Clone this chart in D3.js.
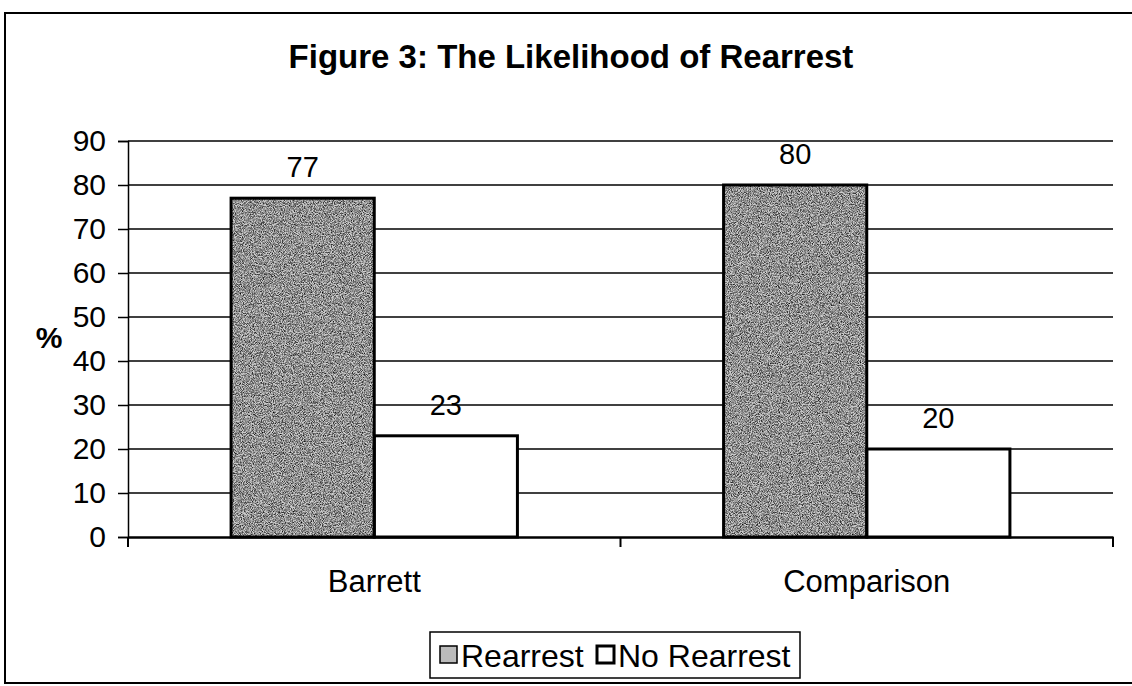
<!DOCTYPE html>
<html>
<head>
<meta charset="utf-8">
<script src="https://cdn.jsdelivr.net/npm/d3@7"></script>
<style>
body { margin: 0; background: #fff; }
text { font-family: "Liberation Sans", Arial, sans-serif; fill: #000; }
</style>
</head>
<body>
<div id="chart"></div>
<script>
// data
var categories = ["Barrett", "Comparison"];
var seriesNames = ["Rearrest", "No Rearrest"];
var rearrest = [77, 80];
var noRearrest = [23, 20];
var yTicks = [0, 10, 20, 30, 40, 50, 60, 70, 80, 90];

var W = 1132, H = 686;
var svg = d3.select('#chart').append('svg').attr('width', W).attr('height', H);

// speckled grey fill like the scanned print
var defs = svg.append('defs');
var flt = defs.append('filter').attr('id', 'speckle')
    .attr('x', 0).attr('y', 0).attr('width', '100%').attr('height', '100%');
flt.append('feTurbulence').attr('type', 'fractalNoise')
    .attr('baseFrequency', 1.1).attr('numOctaves', 2).attr('seed', 3).attr('result', 'n');
flt.append('feColorMatrix').attr('in', 'n').attr('type', 'matrix')
    .attr('values', '0 0 0 0 0  0 0 0 0 0  0 0 0 0 0  0 0 0 1.8 -0.6')
    .attr('result', 'dots');
flt.append('feComposite').attr('in', 'dots').attr('in2', 'SourceGraphic').attr('operator', 'in');

// outer frame
svg.append('rect').attr('x', 5).attr('y', 13).attr('width', W + 20).attr('height', 670)
    .attr('fill', 'none').attr('stroke', '#000').attr('stroke-width', 2);

var plotL = 128, plotR = 1113, plotT = 141, plotB = 537;

var x0 = d3.scaleBand().domain(categories).range([plotL, plotR]).paddingInner(0).paddingOuter(0);
var x1 = d3.scaleBand().domain(seriesNames).range([0, x0.bandwidth()]).paddingInner(0).paddingOuter(0.72);
var y = d3.scaleLinear().domain([0, 90]).range([plotB, plotT]);

svg.append('text')
    .attr('x', 571).attr('y', 68)
    .attr('text-anchor', 'middle')
    .style('font-size', '33px').style('font-weight', 'bold')
    .text('Figure 3: The Likelihood of Rearrest');

// grid lines
svg.append('g').selectAll('line')
    .data(yTicks.slice(1))
    .enter().append('line')
    .attr('x1', plotL).attr('x2', plotR)
    .attr('y1', d => y(d)).attr('y2', d => y(d))
    .attr('stroke', '#000').attr('stroke-width', 1.5);

// y axis
var yAxis = svg.append('g')
    .attr('transform', `translate(${plotL},0)`)
    .call(d3.axisLeft(y).tickValues(yTicks).tickSize(10).tickPadding(12));
yAxis.select('.domain').attr('stroke-width', 1.5);
yAxis.selectAll('.tick line').attr('stroke-width', 1.5);
yAxis.selectAll('text').style('font-size', '30px').attr('font-family', null);

svg.append('text')
    .attr('x', 49).attr('y', 340)
    .attr('text-anchor', 'middle').attr('dominant-baseline', 'middle')
    .style('font-size', '30px').style('font-weight', 'bold')
    .text('%');

// bars
var rows = categories.map((c, i) => ({cat: c, vals: [
    {s: seriesNames[0], v: rearrest[i]},
    {s: seriesNames[1], v: noRearrest[i]}
]}));

var groups = svg.append('g').selectAll('g')
    .data(rows).enter().append('g')
    .attr('transform', d => `translate(${x0(d.cat)},0)`);

groups.selectAll('rect.bg')
    .data(d => d.vals).enter().append('rect')
    .attr('x', d => x1(d.s)).attr('y', d => y(d.v))
    .attr('width', x1.bandwidth()).attr('height', d => plotB - y(d.v))
    .attr('fill', d => d.s === 'Rearrest' ? '#cdcdcd' : '#fff');

groups.selectAll('rect.dots')
    .data(d => d.vals.filter(v => v.s === 'Rearrest')).enter().append('rect')
    .attr('x', d => x1(d.s)).attr('y', d => y(d.v))
    .attr('width', x1.bandwidth()).attr('height', d => plotB - y(d.v))
    .attr('fill', '#5a5a5a').attr('filter', 'url(#speckle)');

groups.selectAll('rect.edge')
    .data(d => d.vals).enter().append('rect')
    .attr('x', d => x1(d.s)).attr('y', d => y(d.v))
    .attr('width', x1.bandwidth()).attr('height', d => plotB - y(d.v))
    .attr('fill', 'none').attr('stroke', '#000').attr('stroke-width', 3);

groups.selectAll('text')
    .data(d => d.vals).enter().append('text')
    .attr('x', d => x1(d.s) + x1.bandwidth() / 2)
    .attr('y', d => y(d.v) - 21)
    .attr('text-anchor', 'middle')
    .style('font-size', '29px')
    .text(d => d.v);

// x axis
var xAxis = svg.append('g')
    .attr('transform', `translate(0,${plotB})`)
    .call(d3.axisBottom(x0).tickSize(0).tickPadding(33));
xAxis.select('.domain').attr('stroke-width', 2.5);
xAxis.selectAll('text').style('font-size', '31px').attr('font-family', null);
xAxis.selectAll('line.sep')
    .data([plotL, x0(categories[1]), plotR]).enter().append('line')
    .attr('x1', d => d).attr('x2', d => d)
    .attr('y1', 0).attr('y2', 10)
    .attr('stroke', '#000').attr('stroke-width', 2);

// legend
var lg = svg.append('g').attr('transform', 'translate(430,632)');
lg.append('rect').attr('width', 370).attr('height', 46)
    .attr('fill', '#fff').attr('stroke', '#000').attr('stroke-width', 1.5);
var items = lg.selectAll('g.item').data(seriesNames).enter().append('g')
    .attr('transform', (d, i) => `translate(${i === 0 ? 10 : 167},0)`);
items.append('rect')
    .attr('x', 0).attr('y', 14).attr('width', 17).attr('height', 17)
    .attr('fill', (d, i) => i === 0 ? '#bbb' : '#fff')
    .attr('stroke', '#000').attr('stroke-width', (d, i) => i === 0 ? 1.5 : 3);
items.append('text')
    .attr('x', 21).attr('y', 35)
    .style('font-size', '32px')
    .text(d => d);
</script>
</body>
</html>
